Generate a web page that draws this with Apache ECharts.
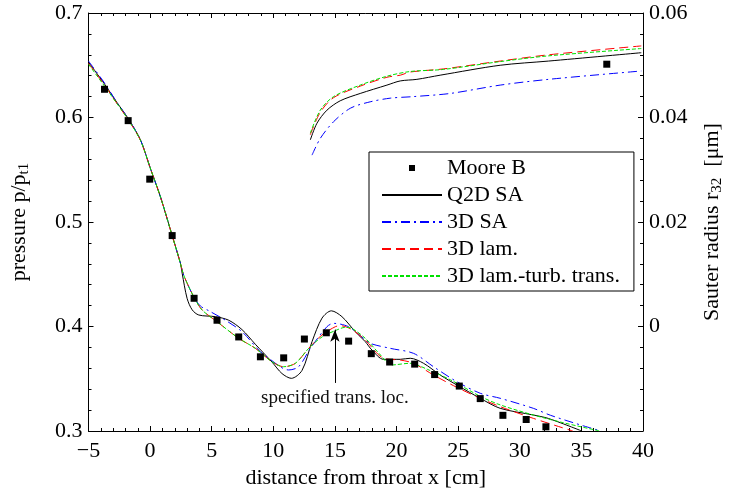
<!DOCTYPE html>
<html>
<head>
<meta charset="utf-8">
<script src="https://cdn.jsdelivr.net/npm/echarts@6/dist/echarts.min.js"></script>
<style>html,body{margin:0;padding:0;background:#fff}#main{width:743px;height:494px}</style>
</head>
<body>
<div id="main"></div>
<script>
// measured pressure (Moore B) and one Sauter radius point
var mooreP = [[-3.70,0.627],[-1.78,0.597],[-0.03,0.541],[1.79,0.487],[3.57,0.427],[5.43,0.406],
  [7.19,0.390],[8.95,0.371],[10.84,0.370],[12.52,0.388],[14.30,0.394],[16.11,0.386],[17.95,0.374],
  [19.44,0.366],[21.47,0.364],[23.09,0.354],[25.09,0.343],[26.79,0.331],[28.63,0.315],[30.52,0.311],[32.12,0.304]];
var mooreR = [[37.06,0.0502]];

// pressure curves (left axis)
var q2dP = [[-5,0.653],[-3.7,0.632],[-2.67,0.614],[-1.78,0.599],[-0.78,0.5785],[0.03,0.551],[0.84,0.524],
  [1.79,0.487],[2.46,0.4605],[2.6,0.451],[3.0,0.427],[3.41,0.416],[3.95,0.411],[5.3,0.4094],[6.38,0.406],
  [7.46,0.397],[8.54,0.383],[9.89,0.366],[10.7,0.355],[11.46,0.3504],[12.33,0.358],[13.14,0.3855],
  [13.95,0.408],[14.71,0.415],[15.57,0.4094],[16.65,0.395],[17.46,0.3855],[18.0,0.3775],[18.94,0.3686],
  [20.3,0.3686],[21.11,0.3696],[22.19,0.3648],[23.54,0.3536],[25.03,0.3431],[26.79,0.3313],[28.41,0.3217],
  [31.1,0.3153],[32.33,0.312],[35.03,0.300]];
var sa3dP = [[-5,0.654],[-3.7,0.633],[-2.67,0.614],[-1.78,0.599],[-0.78,0.5785],[0.03,0.551],[0.84,0.524],
  [1.79,0.487],[2.46,0.4605],[2.73,0.449],[3.54,0.4285],[4.08,0.4196],[4.76,0.4151],[6.11,0.406],
  [7.46,0.395],[8.81,0.3775],[9.62,0.3696],[11.24,0.3584],[12.05,0.3615],[13.0,0.379],[14.35,0.3998],
  [14.89,0.403],[16.11,0.3998],[17.19,0.390],[17.86,0.3839],[19.49,0.3791],[21.38,0.3743],[23.0,0.3615],
  [24.89,0.3472],[26.79,0.3361],[28.41,0.3313],[31.1,0.3217],[32.5,0.315],[35.2,0.3048],[36.6,0.300]];
var lamP = [[-5,0.652],[-3.7,0.631],[-2.67,0.613],[-1.78,0.598],[-0.78,0.578],[0.03,0.551],[0.84,0.524],
  [1.79,0.487],[2.46,0.4605],[2.73,0.449],[3.54,0.4285],[4.22,0.4158],[5.43,0.4046],[7.19,0.3887],
  [8.54,0.3791],[9.89,0.3663],[10.84,0.3615],[11.79,0.3648],[12.87,0.3791],[13.95,0.3919],[15.03,0.3998],
  [15.43,0.4008],[16.38,0.397],[17.46,0.3870],[18.94,0.3696],[20.3,0.3679],[21.38,0.3648],[23.0,0.3536],
  [24.89,0.3418],[26.79,0.3313],[28.41,0.3233],[31.1,0.3121],[34.3,0.300]];
var transP = [[-5,0.651],[-3.7,0.630],[-2.67,0.613],[-1.78,0.598],[-0.78,0.578],[0.03,0.551],[0.84,0.524],
  [1.79,0.487],[2.46,0.4605],[2.73,0.449],[3.54,0.4285],[4.22,0.4158],[5.43,0.4046],[7.19,0.3887],
  [8.54,0.3791],[9.89,0.3663],[10.84,0.3615],[11.79,0.3648],[12.87,0.3791],[13.95,0.390],[15.16,0.3967],
  [15.84,0.3992],[16.38,0.3982],[17.46,0.3887],[18.6,0.374],[19.6,0.3632],[21.1,0.3648],[22.5,0.359],
  [24.4,0.3488],[26.79,0.3332],[28.41,0.325],[31.1,0.3153],[33.5,0.308],[36.5,0.300]];

// Sauter radius curves (right axis)
var q2dR = [[13.0,0.0357],[13.54,0.0389],[14.35,0.0414],[15.43,0.0432],[17.05,0.0446],[19.22,0.0462],
  [20.3,0.0470],[21.65,0.0473],[23.54,0.0481],[28.41,0.0500],[32.33,0.0508],[39.86,0.0524]];
var sa3dR = [[13.14,0.0328],[13.81,0.0360],[14.89,0.0392],[16.27,0.0418],[17.86,0.0430],[19.49,0.0437],
  [21.38,0.0440],[24.35,0.0446],[28.41,0.0462],[32.33,0.0473],[39.86,0.0489]];
var lamR = [[13.0,0.0367],[13.81,0.0410],[14.89,0.0438],[17.05,0.0460],[19.22,0.0477],[20.3,0.0481],
  [21.1,0.0487],[23.8,0.0493],[28.41,0.0508],[32.33,0.0520],[39.86,0.0537]];
var transR = [[13.0,0.0370],[13.81,0.0414],[14.89,0.0440],[17.05,0.0462],[19.22,0.0479],[21.1,0.0488],
  [23.8,0.0492],[28.41,0.0507],[32.33,0.0518],[39.86,0.0532]];

var transLoc = 15, arrowFrom = 0.346, arrowTo = 0.397;

var FONT = 'Liberation Serif';
var black = '#000';

function tickCfg(len) {
  return { show: true, inside: true, length: len, lineStyle: { color: black, width: 1 } };
}
function minorCfg() {
  return { show: true, splitNumber: 5, length: 3, lineStyle: { color: black, width: 1 } };
}
function lineCfg() {
  return { show: true, onZero: false, lineStyle: { color: black, width: 1 } };
}

var chart = echarts.init(document.getElementById('main'));

function curve(name, data, axis, color, dash) {
  return {
    name: name, type: 'line', data: data, yAxisIndex: axis, showSymbol: false, symbol: 'none',
    smooth: 0.3, silent: true,
    lineStyle: { color: color, width: 1, type: dash },
    itemStyle: { color: color }
  };
}

var dashSA = [9, 4, 2, 4], dashLam = [9, 5], dashTrans = [4, 2];

var q2dSeries = curve('Q2D SA', q2dP, 0, black, 'solid');
q2dSeries.markLine = {
  silent: true, symbol: ['none', 'arrow'], symbolSize: [7, 12], animation: false,
  lineStyle: { color: black, width: 1, type: 'solid' },
  label: { show: true, position: 'start', formatter: 'specified trans. loc.', fontFamily: FONT,
    fontSize: 19, color: '#111', distance: 6 },
  data: [[{ coord: [transLoc, arrowFrom] }, { coord: [transLoc, arrowTo] }]]
};

var subRich = { sub: { fontFamily: FONT, fontSize: 15, color: black, padding: [10, 0, 0, 0], verticalAlign: 'bottom' } };
var noSymbol = { opacity: 0 };

chart.setOption({
  animation: false,
  backgroundColor: '#fff',
  grid: { left: 88, right: 100, top: 13, bottom: 63 },
  legend: {
    orient: 'vertical', left: 369, top: 152, padding: [5, 14, 4, 12], itemGap: 5,
    itemWidth: 60, itemHeight: 6, borderColor: black, borderWidth: 1, backgroundColor: '#fff',
    textStyle: { fontFamily: FONT, fontSize: 22, color: black, lineHeight: 22 },
    data: [
      { name: 'Moore B', icon: 'path://M0,0L1,0L1,1L0,1Z', itemStyle: { color: black, opacity: 1 } },
      { name: 'Q2D SA', itemStyle: noSymbol },
      { name: '3D SA', itemStyle: noSymbol },
      { name: '3D lam.', itemStyle: noSymbol },
      { name: '3D lam.-turb. trans.', itemStyle: noSymbol }
    ]
  },
  xAxis: [{
    type: 'value', min: -5, max: 40, interval: 5, position: 'bottom',
    axisLine: lineCfg(), axisTick: tickCfg(5), minorTick: minorCfg(),
    splitLine: { show: false },
    axisLabel: { fontFamily: FONT, fontSize: 22, color: black, margin: 9,
      formatter: function (v) { return String(v).replace('-', '\u2212'); } },
    name: 'distance from throat x [cm]', nameLocation: 'middle', nameGap: 33,
    nameTextStyle: { fontFamily: FONT, fontSize: 22, color: black }
  }, {
    type: 'value', min: -5, max: 40, interval: 5, position: 'top',
    axisLine: lineCfg(), axisTick: tickCfg(5), minorTick: minorCfg(),
    splitLine: { show: false }, axisLabel: { show: false }
  }],
  yAxis: [{
    type: 'value', min: 0.3, max: 0.7, interval: 0.1, position: 'left',
    axisLine: lineCfg(), axisTick: tickCfg(5), minorTick: minorCfg(),
    splitLine: { show: false },
    axisLabel: { fontFamily: FONT, fontSize: 22, color: black, margin: 6,
      formatter: function (v) { return v.toFixed(1); } },
    name: 'pressure p/p{sub|t1}', nameLocation: 'middle', nameGap: 57, nameRotate: 90,
    nameTextStyle: { fontFamily: FONT, fontSize: 22, color: black, rich: subRich }
  }, {
    type: 'value', min: -0.02, max: 0.06, interval: 0.02, position: 'right',
    axisLine: lineCfg(), axisTick: tickCfg(5), minorTick: minorCfg(),
    splitLine: { show: false },
    axisLabel: { fontFamily: FONT, fontSize: 22, color: black, margin: 6,
      formatter: function (v) { if (v < -0.001) return ''; if (Math.abs(v) < 1e-9) return '0'; return v.toFixed(2); } },
    name: 'Sauter radius r{sub|32}  [\u03bcm]', nameLocation: 'middle', nameGap: 57, nameRotate: 90,
    nameTextStyle: { fontFamily: FONT, fontSize: 22, color: black, rich: subRich }
  }],
  series: [
    { name: 'Moore B', type: 'scatter', data: mooreP, symbol: 'rect', symbolSize: 7,
      itemStyle: { color: black, opacity: 1 }, z: 5, silent: true },
    { name: 'Moore B', type: 'scatter', yAxisIndex: 1, data: mooreR, symbol: 'rect', symbolSize: 7,
      itemStyle: { color: black, opacity: 1 }, z: 5, silent: true },
    q2dSeries,
    curve('3D SA', sa3dP, 0, '#0000ff', dashSA),
    curve('3D lam.', lamP, 0, '#ff0000', dashLam),
    curve('3D lam.-turb. trans.', transP, 0, '#00e000', dashTrans),
    curve('Q2D SA', q2dR, 1, black, 'solid'),
    curve('3D SA', sa3dR, 1, '#0000ff', dashSA),
    curve('3D lam.', lamR, 1, '#ff0000', dashLam),
    curve('3D lam.-turb. trans.', transR, 1, '#00e000', dashTrans)
  ]
});
</script>
</body>
</html>
